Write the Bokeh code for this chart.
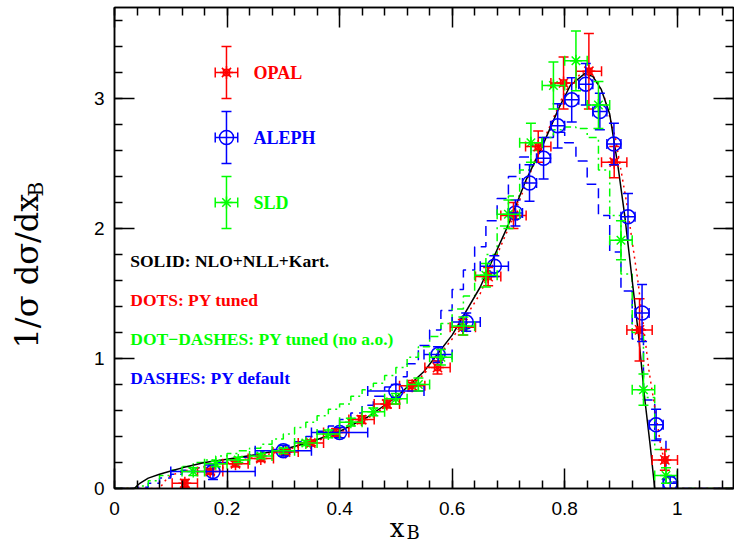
import numpy as np
from bokeh.plotting import figure
from bokeh.models import (Range1d, LinearAxis, SingleIntervalTicker, CustomJSTickFormatter,
                          Whisker, TeeHead, ColumnDataSource, Label)
from bokeh.embed import file_html
from bokeh.resources import INLINE

# ---------------- data ----------------
# OPAL (red asterisks)
opal_x = [0.125, 0.170, 0.215, 0.260, 0.304, 0.349, 0.394, 0.439, 0.484, 0.529,
          0.574, 0.619, 0.664, 0.709, 0.753, 0.798, 0.843, 0.888, 0.933, 0.978]
opal_y = [0.04, 0.13, 0.19, 0.23, 0.28, 0.35, 0.43, 0.53, 0.65, 0.79,
          0.93, 1.24, 1.63, 2.10, 2.63, 3.12, 3.21, 2.51, 1.22, 0.22]
opal_yerr = [0.03, 0.02, 0.02, 0.02, 0.02, 0.02, 0.03, 0.03, 0.03, 0.04,
             0.05, 0.06, 0.07, 0.10, 0.12, 0.20, 0.29, 0.12, 0.24, 0.08]
opal_half_bin = 0.0225

# ALEPH (blue circles)
aleph_x = [0.175, 0.30, 0.40, 0.50, 0.575, 0.625, 0.675, 0.7125, 0.7375, 0.7625,
           0.7875, 0.8125, 0.8375, 0.8625, 0.8875, 0.9125, 0.9375, 0.9625, 0.9875]
aleph_y = [0.13, 0.29, 0.43, 0.75, 1.03, 1.28, 1.71, 2.12, 2.35, 2.54,
           2.79, 2.99, 3.11, 2.90, 2.65, 2.09, 1.35, 0.49, 0.04]
aleph_xerr = [0.075, 0.05, 0.05, 0.05, 0.025, 0.025, 0.025, 0.0125, 0.0125, 0.0125,
              0.0125, 0.0125, 0.0125, 0.0125, 0.0125, 0.0125, 0.0125, 0.0125, 0.0125]
aleph_yerr = [0.06, 0.04, 0.04, 0.05, 0.06, 0.07, 0.08, 0.10, 0.14, 0.16,
              0.17, 0.17, 0.16, 0.14, 0.16, 0.18, 0.22, 0.12, 0.05]

# SLD (green asterisks)
sld_x = [0.14, 0.18, 0.22, 0.26, 0.30, 0.34, 0.38, 0.42, 0.46, 0.50, 0.54,
         0.58, 0.62, 0.66, 0.70, 0.74, 0.78, 0.82, 0.86, 0.90, 0.94, 0.98]
sld_y = [0.13, 0.19, 0.22, 0.25, 0.29, 0.35, 0.42, 0.51, 0.59, 0.69, 0.80,
         1.01, 1.25, 1.64, 2.11, 2.66, 3.10, 3.29, 2.95, 1.91, 0.76, 0.10]
sld_yerr = [0.03, 0.02, 0.02, 0.02, 0.02, 0.02, 0.03, 0.03, 0.03, 0.04, 0.05,
            0.06, 0.07, 0.09, 0.11, 0.15, 0.18, 0.23, 0.18, 0.15, 0.12, 0.06]
sld_half_bin = 0.02

# SOLID: NLO+NLL+Kart.
nll_x = [0.0, 0.035, 0.045, 0.06, 0.08, 0.10, 0.13, 0.16, 0.20, 0.25, 0.30, 0.35, 0.40,
         0.45, 0.50, 0.55, 0.60, 0.65, 0.70, 0.73, 0.76, 0.79, 0.81, 0.835, 0.85,
         0.865, 0.88, 0.895, 0.907, 0.92, 0.931, 0.942, 0.952, 0.96, 1.1]
nll_y = [0.0, 0.0, 0.04, 0.08, 0.11, 0.135, 0.17, 0.20, 0.225, 0.26, 0.30, 0.36, 0.44,
         0.55, 0.70, 0.90, 1.18, 1.55, 2.03, 2.36, 2.63, 2.93, 3.10, 3.19, 3.17,
         3.07, 2.88, 2.47, 2.09, 1.60, 1.19, 0.70, 0.33, 0.0, 0.0]

# DOTS: PY tuned
pyt_x = [0.0, 0.08, 0.09, 0.10, 0.12, 0.15, 0.20, 0.25, 0.30, 0.35, 0.40, 0.45, 0.50,
         0.55, 0.60, 0.65, 0.70, 0.75, 0.80, 0.83, 0.85, 0.87, 0.89, 0.91, 0.93,
         0.95, 0.97, 0.985, 0.99, 1.1]
pyt_y = [0.0, 0.0, 0.06, 0.10, 0.13, 0.16, 0.20, 0.24, 0.29, 0.35, 0.43, 0.54, 0.68,
         0.88, 1.15, 1.50, 2.00, 2.55, 3.05, 3.20, 3.18, 3.02, 2.70, 2.20, 1.60,
         0.90, 0.35, 0.05, 0.0, 0.0]

# histogram bins (width 0.02 from 0 to 1)
hist_edges = [round(0.02 * i, 2) for i in range(51)]
# DASHES: PY default
pyd_y = [0.0, 0.0, 0.01, 0.04, 0.08, 0.11, 0.14, 0.16, 0.18, 0.20,
         0.22, 0.24, 0.26, 0.28, 0.30, 0.33, 0.36, 0.40, 0.44, 0.48,
         0.53, 0.58, 0.64, 0.71, 0.78, 0.86, 0.96, 1.10, 1.22, 1.37,
         1.53, 1.68, 1.86, 2.06, 2.23, 2.40, 2.55, 2.64, 2.70, 2.74,
         2.66, 2.52, 2.34, 2.10, 1.82, 1.52, 1.15, 0.68, 0.38, 0.05]
# DOT-DASHES: PY tuned (no a.o.)
pyn_y = [0.0, 0.0, 0.02, 0.06, 0.10, 0.14, 0.17, 0.20, 0.22, 0.25,
         0.27, 0.29, 0.31, 0.34, 0.38, 0.42, 0.47, 0.51, 0.56, 0.61,
         0.65, 0.71, 0.76, 0.81, 0.87, 0.93, 1.01, 1.09, 1.17, 1.27,
         1.38, 1.48, 1.63, 1.80, 2.02, 2.25, 2.45, 2.60, 2.70, 2.76,
         2.78, 2.77, 2.70, 2.45, 2.10, 1.65, 1.20, 0.70, 0.30, 0.05]

series_names = ["OPAL", "ALEPH", "SLD"]
curve_notes = ["SOLID: NLO+NLL+Kart.", "DOTS: PY tuned",
               "DOT\u2212DASHES: PY tuned (no a.o.)", "DASHES: PY default"]

RED, BLUE, GREEN, BLACK = "#ff0000", "#0000ff", "#00ff00", "#000000"
LW = 1.5

p = figure(width=734, height=544, x_range=Range1d(0, 1.1), y_range=Range1d(0, 3.7),
           output_backend="svg", toolbar_location=None,
           x_axis_type=None, y_axis_type=None,
           min_border_left=110, min_border_right=1, min_border_top=7, min_border_bottom=56)
p.outline_line_color = "black"
p.outline_line_width = LW
p.background_fill_color = "white"
p.border_fill_color = "white"

xt = SingleIntervalTicker(interval=0.2, num_minor_ticks=5)
yt = SingleIntervalTicker(interval=1.0, num_minor_ticks=5)


def make_axis(ticker, show, fmt=None, standoff=8):
    kw = dict(ticker=ticker, axis_line_color="black", axis_line_width=LW,
              major_tick_in=20, major_tick_out=0, minor_tick_in=8, minor_tick_out=0,
              major_tick_line_width=LW, minor_tick_line_width=LW,
              major_tick_line_color="black", minor_tick_line_color="black")
    if show:
        kw.update(major_label_text_font="Liberation Sans", major_label_text_font_size="19px",
                  major_label_text_color="black", major_label_standoff=standoff)
        if fmt is not None:
            kw["formatter"] = fmt
    else:
        kw.update(formatter=CustomJSTickFormatter(code="return ''"),
                  major_label_text_font_size="1px", major_label_standoff=0)
    return LinearAxis(**kw)


p.add_layout(make_axis(xt, True, CustomJSTickFormatter(code="return String(Math.round(tick*10)/10)"),
                       standoff=13), "below")
p.add_layout(make_axis(yt, True, standoff=10), "left")
p.add_layout(make_axis(xt, False), "above")
p.add_layout(make_axis(yt, False), "right")
p.xgrid.visible = False
p.ygrid.visible = False

# ---- theory curves ----
p.step(hist_edges + [1.1], pyd_y + [0.0, 0.0], mode="after", line_color=BLUE,
       line_width=LW, line_dash="10 6")
p.step(hist_edges + [1.1], pyn_y + [0.0, 0.0], mode="after", line_color=GREEN,
       line_width=LW, line_dash="8 4 2 4")
p.line(pyt_x, pyt_y, line_color=RED, line_width=LW, line_dash="2 4")
p.line(nll_x, nll_y, line_color=BLACK, line_width=LW)


def errorbars(xs, ys, xlo, xhi, ylo, yhi, color):
    src = ColumnDataSource(dict(x=xs, y=ys, xlo=xlo, xhi=xhi, ylo=ylo, yhi=yhi))
    for dim, base, lo, hi in (("height", "x", "ylo", "yhi"), ("width", "y", "xlo", "xhi")):
        w = Whisker(source=src, base=base, lower=lo, upper=hi, dimension=dim,
                    line_color=color, line_width=LW, level="glyph",
                    upper_head=TeeHead(size=10, line_color=color, line_width=LW),
                    lower_head=TeeHead(size=10, line_color=color, line_width=LW))
        p.add_layout(w)
    return src


def draw_marker(src, kind, color):
    if kind == "OPAL":
        p.scatter("x", "y", source=src, marker="asterisk", size=13, line_color=color, line_width=LW)
        p.scatter("x", "y", source=src, marker="square", size=6, fill_color=None,
                  line_color=color, line_width=LW)
    elif kind == "ALEPH":
        p.scatter("x", "y", source=src, marker="circle", size=14, fill_color=None,
                  line_color=color, line_width=LW)
    else:
        p.scatter("x", "y", source=src, marker="asterisk", size=12, line_color=color, line_width=LW)


# ---- data points ----
s_opal = errorbars(opal_x, opal_y,
                   [x - opal_half_bin for x in opal_x], [x + opal_half_bin for x in opal_x],
                   [y - e for y, e in zip(opal_y, opal_yerr)], [y + e for y, e in zip(opal_y, opal_yerr)], RED)
draw_marker(s_opal, "OPAL", RED)
s_aleph = errorbars(aleph_x, aleph_y,
                    [x - e for x, e in zip(aleph_x, aleph_xerr)], [x + e for x, e in zip(aleph_x, aleph_xerr)],
                    [y - e for y, e in zip(aleph_y, aleph_yerr)], [y + e for y, e in zip(aleph_y, aleph_yerr)], BLUE)
draw_marker(s_aleph, "ALEPH", BLUE)
s_sld = errorbars(sld_x, sld_y,
                  [x - sld_half_bin for x in sld_x], [x + sld_half_bin for x in sld_x],
                  [y - e for y, e in zip(sld_y, sld_yerr)], [y + e for y, e in zip(sld_y, sld_yerr)], GREEN)
draw_marker(s_sld, "SLD", GREEN)

# ---- legend (data sets) ----
leg_x0, leg_y0, leg_dy = 0.199, 3.2, 0.5
for i, (name, col) in enumerate(zip(series_names, [RED, BLUE, GREEN])):
    yy = leg_y0 - i * leg_dy
    src = errorbars([leg_x0], [yy], [leg_x0 - 0.02], [leg_x0 + 0.02], [yy - 0.2], [yy + 0.2], col)
    draw_marker(src, name, col)
    p.add_layout(Label(x=leg_x0 + 0.048, y=yy, text=name, text_color=col,
                       text_font="Liberation Serif", text_font_style="bold",
                       text_font_size="18px", text_baseline="middle", text_align="left"))

# ---- legend (curves) ----
for i, (txt, col) in enumerate(zip(curve_notes, [BLACK, RED, GREEN, BLUE])):
    p.add_layout(Label(x=0.028, y=1.75 - 0.3 * i, text=txt, text_color=col,
                       text_font="Liberation Serif", text_font_style="bold",
                       text_font_size="17.5px", text_baseline="middle", text_align="left"))

# ---- axis titles (side-panel labels, so they are not clipped to the frame) ----
p.add_layout(Label(x=0.489, y=-0.305, text="x", text_font="DejaVu Serif", text_color="black",
                   text_font_size="26px", text_baseline="middle", text_align="left"), "left")
p.add_layout(Label(x=0.519, y=-0.338, text="B", text_font="DejaVu Serif", text_color="black",
                   text_font_size="18px", text_baseline="middle", text_align="left"), "left")
p.add_layout(Label(x=-0.1553, y=1.077, text="1/\u03c3 d\u03c3/dx", text_font="DejaVu Serif",
                   text_color="black", text_font_size="32px", text_baseline="middle",
                   text_align="left", angle=np.pi / 2), "left")
p.add_layout(Label(x=-0.139, y=2.246, text="B", text_font="DejaVu Serif", text_color="black",
                   text_font_size="20px", text_baseline="middle", text_align="left",
                   angle=np.pi / 2), "left")

open("out.html", "w").write(file_html(p, INLINE))
